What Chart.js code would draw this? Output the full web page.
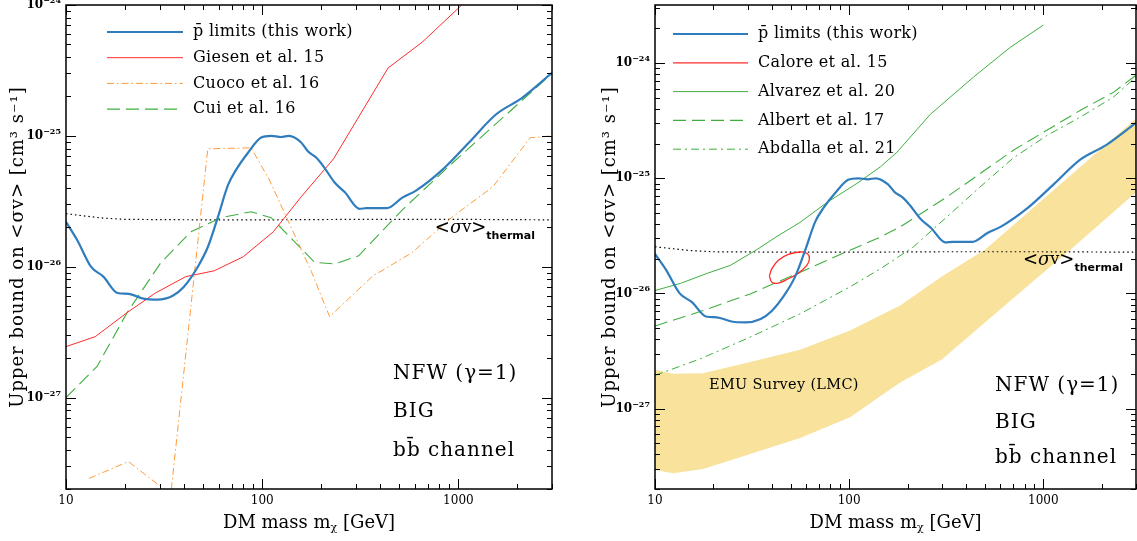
<!DOCTYPE html>
<html>
<head>
<meta charset="utf-8">
<script src="https://cdn.jsdelivr.net/npm/chart.js@4.4.1/dist/chart.umd.min.js"></script>
<style>
  body { margin: 0; background: #fff; }
  .panel { position: absolute; top: 0; height: 541px; }
  #izq { left: 0; width: 560px; }
  #der { left: 590px; width: 547px; }
</style>
</head>
<body>
<div class="panel" id="izq"><canvas id="graficaIzq"></canvas></div>
<div class="panel" id="der"><canvas id="graficaDer"></canvas></div>
<script>
// Límites de antiprotones (este trabajo), iguales en los dos paneles
const masasPbar = [10, 11.4, 13.4, 15.5, 18.3, 20.8, 24.8, 29.3, 35, 39.8, 47, 52.9, 59.5, 66.9, 73.6, 84.5, 98.8, 111, 125, 137, 158, 172, 189, 206, 234, 264, 313, 340, 432, 518, 605, 828, 1133, 1548, 2113, 3000];
const limitesPbar = [2.2e-26, 1.6e-26, 1.0e-26, 8.4e-27, 6.3e-27, 6.2e-27, 5.7e-27, 5.6e-27, 6.0e-27, 7.0e-27, 1.0e-26, 1.42e-26, 2.4e-26, 4.2e-26, 5.5e-26, 7.4e-26, 9.7e-26, 1.0e-25, 9.8e-26, 1.0e-25, 8.9e-26, 7.55e-26, 6.8e-26, 5.8e-26, 4.4e-26, 3.7e-26, 2.77e-26, 2.8e-26, 2.8e-26, 3.37e-26, 3.8e-26, 5.5e-26, 8.9e-26, 1.45e-25, 1.95e-25, 3.03e-25];

// Sección eficaz térmica
const masasTermica = [10, 15, 20, 50, 100, 300, 1000, 3000];
const valoresTermica = [2.54e-26, 2.36e-26, 2.3e-26, 2.28e-26, 2.28e-26, 2.3e-26, 2.3e-26, 2.28e-26];

// Panel izquierdo
const masasGiesen = [10, 14.1, 20.5, 28.6, 40.8, 56.9, 80, 114, 158, 231, 438, 654, 1040];
const valoresGiesen = [2.45e-27, 2.92e-27, 4.46e-27, 6.3e-27, 8.4e-27, 9.3e-27, 1.19e-26, 1.85e-26, 3.42e-26, 6.67e-26, 3.3e-25, 5.2e-25, 1.0e-24];

const masasCuoco = [13.1, 20.8, 34.2, 52.8, 87.8, 108.8, 178, 220.6, 363, 580, 932, 1498, 2321, 3000];
const valoresCuoco = [2.41e-28, 3.24e-28, 1.82e-28, 7.96e-26, 8.1e-26, 4.6e-26, 9.2e-27, 4.15e-27, 8.4e-27, 1.28e-26, 2.4e-26, 4.08e-26, 9.66e-26, 1.0e-25];

const masasCui = [10, 14.4, 20.5, 30.4, 43.3, 61.6, 87.8, 111, 185, 234, 310, 518, 932, 1679, 3000];
const valoresCui = [1.0e-27, 1.73e-27, 4.46e-27, 1.07e-26, 1.85e-26, 2.37e-26, 2.63e-26, 2.37e-26, 1.08e-26, 1.05e-26, 1.21e-26, 2.72e-26, 6.2e-26, 1.37e-25, 3.0e-25];

// Panel derecho
const masasCalore = [38.8, 40.0, 43.2, 48.6, 55.9, 61.0, 62.4, 60.5, 54.8, 48.6, 43.2, 40.0, 38.8];
const valoresCalore = [1.41e-26, 1.64e-26, 1.94e-26, 2.18e-26, 2.29e-26, 2.21e-26, 2.0e-26, 1.75e-26, 1.5e-26, 1.34e-26, 1.23e-26, 1.25e-26, 1.41e-26];

const masasAlvarez = [10, 13.5, 18.5, 24.4, 33.6, 42.5, 55.9, 77, 110, 145, 176, 262, 436, 678, 1000];
const valoresAlvarez = [1.06e-26, 1.22e-26, 1.49e-26, 1.75e-26, 2.41e-26, 3.13e-26, 4.14e-26, 6.18e-26, 9.05e-26, 1.26e-25, 1.68e-25, 3.6e-25, 7.55e-25, 1.38e-24, 2.14e-24];

const masasAlbert = [10, 17.7, 30.9, 51.6, 101, 145, 183, 318, 700, 1552, 2304, 3000];
const valoresAlbert = [5.2e-27, 7.1e-27, 9.9e-27, 1.44e-26, 2.37e-26, 3.09e-26, 3.78e-26, 6.87e-26, 1.75e-25, 3.9e-25, 5.6e-25, 7.87e-25];

const masasAbdalla = [10, 17.1, 30.9, 55.9, 101, 145, 214, 318, 472, 700, 1041, 1552, 2304, 3000];
const valoresAbdalla = [1.94e-27, 2.7e-27, 4.17e-27, 6.65e-27, 1.14e-26, 1.64e-26, 2.53e-26, 4.61e-26, 8.4e-26, 1.5e-25, 2.35e-25, 3.4e-25, 5.1e-25, 7.6e-25];

// Banda EMU Survey (LMC)
const masasEmu = [10, 12.4, 17.7, 30.9, 55.9, 101, 183, 300, 500, 850, 1500, 3000];
const emuSuperior = [2.17e-27, 2.0e-27, 2.03e-27, 2.53e-27, 3.24e-27, 4.77e-27, 7.87e-27, 1.4e-26, 2.4e-26, 5.2e-26, 1.2e-25, 3.3e-25];
const emuInferior = [2.93e-28, 2.74e-28, 2.99e-28, 4.03e-28, 5.56e-28, 8.4e-28, 1.68e-27, 2.67e-27, 5.6e-27, 1.2e-26, 2.72e-26, 7.55e-26];

// Etiquetas de los ejes
const decadasX = [10, 100, 1000];
const etiquetasX = ['10', '100', '1000'];
const decadasY = [1e-27, 1e-26, 1e-25, 1e-24];
const exponentesY = ['−27', '−26', '−25', '−24'];

const fuenteSerif = '"DejaVu Serif", serif';
const azul = '#2f7dbd';
const rojo = '#ff2b2b';
const naranja = '#ff9a3a';
const verde = '#3fae3f';

function puntos(masas, valores) {
    return masas.map((m, i) => ({ x: m, y: valores[i] }));
}

// Marcas de una escala logarítmica (mayores en cada década)
function marcasLog(min, max) {
    const marcas = [];
    for (let e = Math.floor(Math.log10(min)); e <= Math.ceil(Math.log10(max)); e++) {
        for (let k = 1; k < 10; k++) {
            const v = k * Math.pow(10, e);
            if (v >= min * 0.999 && v <= max * 1.001) marcas.push({ v: v, mayor: k === 1 });
        }
    }
    return marcas;
}

// Escribe un texto hecho de varias partes (para índices y exponentes)
function escribirPartes(ctx, partes, x, y, alinear) {
    let total = 0;
    partes.forEach(p => {
        ctx.font = p.f;
        ctx.letterSpacing = p.ls || '0px';
        p.w = ctx.measureText(p.t).width;
        total += p.w;
    });
    let cx = x;
    if (alinear === 'right') cx = x - total;
    if (alinear === 'center') cx = x - total / 2;
    ctx.textAlign = 'left';
    ctx.textBaseline = 'middle';
    partes.forEach(p => {
        ctx.font = p.f;
        ctx.letterSpacing = p.ls || '0px';
        ctx.fillText(p.t, cx, y + (p.dy || 0));
        cx += p.w;
    });
    ctx.letterSpacing = '0px';
}

function etiquetaTermica(ctx, x, y) {
    escribirPartes(ctx, [
        { t: '<', f: '18px ' + fuenteSerif },
        { t: 'σ', f: 'italic 18px ' + fuenteSerif },
        { t: 'v', f: '16px ' + fuenteSerif },
        { t: '>', f: '18px ' + fuenteSerif },
        { t: 'thermal', f: 'bold 11px "DejaVu Sans", sans-serif', dy: 8 }
    ], x, y, 'left');
}

const pluginMarco = {
    id: 'marco',
    afterDraw(chart, args, op) {
        const ctx = chart.ctx;
        const a = chart.chartArea;
        const ex = chart.scales.x;
        const ey = chart.scales.y;
        ctx.save();
        ctx.strokeStyle = '#000';
        ctx.fillStyle = '#000';
        ctx.lineWidth = 1;
        ctx.setLineDash([]);

        // Marcas hacia dentro en los cuatro lados
        ctx.beginPath();
        marcasLog(ex.min, ex.max).forEach(mc => {
            const px = Math.round(ex.getPixelForValue(mc.v)) + 0.5;
            const largo = mc.mayor ? 10 : 5;
            ctx.moveTo(px, a.bottom); ctx.lineTo(px, a.bottom - largo);
            ctx.moveTo(px, a.top); ctx.lineTo(px, a.top + largo);
        });
        marcasLog(ey.min, ey.max).forEach(mc => {
            const py = Math.round(ey.getPixelForValue(mc.v)) + 0.5;
            const largo = mc.mayor ? 10 : 5;
            ctx.moveTo(a.left, py); ctx.lineTo(a.left + largo, py);
            ctx.moveTo(a.right, py); ctx.lineTo(a.right - largo, py);
        });
        ctx.stroke();

        ctx.lineWidth = 1.5;
        ctx.strokeRect(a.left, a.top, a.right - a.left, a.bottom - a.top);

        // Números de los ejes
        decadasX.forEach((v, i) => {
            escribirPartes(ctx, [{ t: etiquetasX[i], f: '12px ' + fuenteSerif }], ex.getPixelForValue(v), a.bottom + 12, 'center');
        });
        decadasY.forEach((v, i) => {
            escribirPartes(ctx, [
                { t: '10', f: 'bold 12px ' + fuenteSerif },
                { t: exponentesY[i], f: 'bold 8px ' + fuenteSerif, dy: -4 }
            ], a.left - 5, ey.getPixelForValue(v), 'right');
        });

        // Títulos de los ejes
        const cx = (a.left + a.right) / 2;
        escribirPartes(ctx, [
            { t: 'DM mass m', f: '18px ' + fuenteSerif },
            { t: 'χ', f: '11px ' + fuenteSerif, dy: 5 },
            { t: ' [GeV]', f: '18px ' + fuenteSerif }
        ], cx, a.bottom + 34, 'center');

        ctx.save();
        ctx.translate(a.left + op.tituloYDx, (a.top + a.bottom) / 2);
        ctx.rotate(-Math.PI / 2);
        escribirPartes(ctx, [{ t: 'Upper bound on <σv> [cm³ s⁻¹]', f: '18px ' + fuenteSerif, ls: '1px' }], 0, 0, 'center');
        ctx.restore();

        // Leyenda con el estilo de cada serie
        const ley = op.leyenda;
        ley.entradas.forEach((en, i) => {
            const ds = chart.data.datasets[en.indice];
            const y = a.top + ley.y + i * ley.paso;
            ctx.save();
            ctx.strokeStyle = ds.borderColor;
            ctx.lineWidth = ds.borderWidth;
            ctx.setLineDash(ds.borderDash || []);
            ctx.beginPath();
            ctx.moveTo(a.left + ley.x, y);
            ctx.lineTo(a.left + ley.x + ley.largo, y);
            ctx.stroke();
            ctx.restore();
            escribirPartes(ctx, [{ t: en.texto, f: '16px ' + fuenteSerif, ls: '0.3px' }], a.left + ley.x + ley.largo + 10, y, 'left');
        });

        // Textos sueltos
        const w = a.right - a.left;
        const h = a.bottom - a.top;
        op.textos.forEach(tx => {
            escribirPartes(ctx, [{ t: tx.t, f: tx.f, ls: tx.ls }], a.left + tx.fx * w, a.top + tx.fy * h, tx.alinear || 'left');
        });
        etiquetaTermica(ctx, a.left + op.termica.fx * w, a.top + op.termica.fy * h);

        ctx.restore();
    }
};

function linea(etiqueta, masas, valores, color, ancho, trazo, extra) {
    return Object.assign({
        label: etiqueta,
        data: puntos(masas, valores),
        borderColor: color,
        backgroundColor: color,
        borderWidth: ancho,
        borderDash: trazo,
        pointRadius: 0,
        fill: false,
        tension: 0
    }, extra || {});
}

function crearGrafica(idCanvas, datasets, yMax, relleno, marco) {
    const ctx = document.getElementById(idCanvas).getContext('2d');
    return new Chart(ctx, {
        type: 'line',
        data: { datasets: datasets },
        options: {
            responsive: true,
            maintainAspectRatio: false,
            animation: false,
            layout: { padding: relleno },
            scales: {
                x: { type: 'logarithmic', min: 10, max: 3000, display: false },
                y: { type: 'logarithmic', min: 2e-28, max: yMax, display: false }
            },
            plugins: {
                legend: { display: false },
                tooltip: { enabled: false },
                marco: marco
            }
        },
        plugins: [pluginMarco]
    });
}

const estiloPbar = { cubicInterpolationMode: 'monotone' };
const fuenteNotas = '20px ' + fuenteSerif;

// Panel izquierdo
crearGrafica('graficaIzq', [
    linea('p̄ limits (this work)', masasPbar, limitesPbar, azul, 2.2, [], estiloPbar),
    linea('Giesen et al. 15', masasGiesen, valoresGiesen, rojo, 1, []),
    linea('Cuoco et al. 16', masasCuoco, valoresCuoco, naranja, 1, [7, 3, 1.5, 3]),
    linea('Cui et al. 16', masasCui, valoresCui, verde, 1.1, [13, 6]),
    linea('thermal', masasTermica, valoresTermica, '#000', 1.2, [1.5, 3])
], 1e-24, { left: 66, right: 8, top: 5, bottom: 52 }, {
    tituloYDx: -48,
    leyenda: {
        x: 41, y: 27, paso: 25.7, largo: 76,
        entradas: [
            { indice: 0, texto: 'p̄ limits (this work)' },
            { indice: 1, texto: 'Giesen et al. 15' },
            { indice: 2, texto: 'Cuoco et al. 16' },
            { indice: 3, texto: 'Cui et al. 16' }
        ]
    },
    textos: [
        { t: 'NFW (γ=1)', f: fuenteNotas, ls: '1px', fx: 0.673, fy: 0.762 },
        { t: 'BIG', f: fuenteNotas, ls: '1px', fx: 0.673, fy: 0.841 },
        { t: 'bb̄ channel', f: fuenteNotas, ls: '1px', fx: 0.673, fy: 0.921 }
    ],
    termica: { fx: 0.759, fy: 0.461 }
});

// Panel derecho
crearGrafica('graficaDer', [
    linea('p̄ limits (this work)', masasPbar, limitesPbar, azul, 2.2, [], estiloPbar),
    linea('Calore et al. 15', masasCalore, valoresCalore, rojo, 1.3, [], { tension: 0.4 }),
    linea('Alvarez et al. 20', masasAlvarez, valoresAlvarez, verde, 1, []),
    linea('Albert et al. 17', masasAlbert, valoresAlbert, verde, 1.1, [13, 6]),
    linea('Abdalla et al. 21', masasAbdalla, valoresAbdalla, verde, 1, [8, 4, 2, 4]),
    linea('thermal', masasTermica, valoresTermica, '#000', 1.2, [1.5, 3]),
    linea('EMU Survey (LMC)', masasEmu, emuSuperior, '#f8e29c', 0, [], { fill: '+1', backgroundColor: '#f8e29c' }),
    linea('EMU inferior', masasEmu, emuInferior, '#f8e29c', 0, [])
], 3.2e-24, { left: 65, right: 1, top: 5, bottom: 52 }, {
    tituloYDx: -45,
    leyenda: {
        x: 18, y: 29, paso: 28.8, largo: 75,
        entradas: [
            { indice: 0, texto: 'p̄ limits (this work)' },
            { indice: 1, texto: 'Calore et al. 15' },
            { indice: 2, texto: 'Alvarez et al. 20' },
            { indice: 3, texto: 'Albert et al. 17' },
            { indice: 4, texto: 'Abdalla et al. 21' }
        ]
    },
    textos: [
        { t: 'EMU Survey (LMC)', f: '14.5px ' + fuenteSerif, ls: '0.3px', fx: 0.268, fy: 0.785, alinear: 'center' },
        { t: 'NFW (γ=1)', f: fuenteNotas, ls: '1px', fx: 0.707, fy: 0.787 },
        { t: 'BIG', f: fuenteNotas, ls: '1px', fx: 0.707, fy: 0.864 },
        { t: 'bb̄ channel', f: fuenteNotas, ls: '1px', fx: 0.707, fy: 0.936 }
    ],
    termica: { fx: 0.765, fy: 0.527 }
});
</script>
</body>
</html>
